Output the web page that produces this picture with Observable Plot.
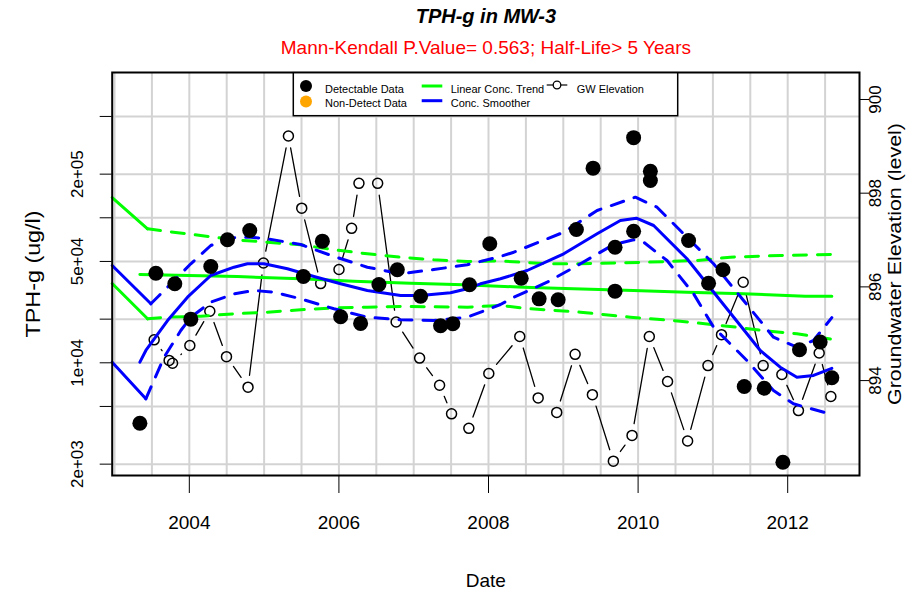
<!DOCTYPE html>
<html><head><meta charset="utf-8">
<script src="https://cdn.jsdelivr.net/npm/d3@7"></script>
<script src="https://cdn.jsdelivr.net/npm/@observablehq/plot@0.6"></script>
<style>
body{margin:0;background:#fff;}
#wrap{width:922px;height:595px;overflow:hidden;}
</style></head><body><div id="wrap"></div>
<script>
// ---------- data (decimal years, ug/l, ft) ----------
const tphYears = [2003.339, 2003.553, 2003.806, 2004.020, 2004.287, 2004.510, 2004.808, 2005.525, 2005.779, 2006.023, 2006.290, 2006.535, 2006.781, 2007.092, 2007.359, 2007.523, 2007.746, 2008.017, 2008.437, 2008.677, 2008.931, 2009.175, 2009.398, 2009.692, 2009.692, 2009.940, 2009.940, 2010.164, 2010.164, 2010.675, 2010.942, 2011.135, 2011.419, 2011.686, 2011.936, 2012.158, 2012.434, 2012.590];
const tphValues = [3830, 41500, 35100, 20000, 46100, 70500, 81700, 39400, 69000, 20800, 18700, 34700, 43800, 28800, 18000, 18600, 34500, 66200, 38300, 27600, 27200, 83000, 220000, 62700, 31200, 357000, 80800, 209000, 181000, 69700, 35400, 43800, 6870, 6680, 2060, 12300, 13900, 7880];

const gwYears = [2003.530, 2003.730, 2003.776, 2004.007, 2004.274, 2004.497, 2004.785, 2004.991, 2005.325, 2005.503, 2005.756, 2006.001, 2006.170, 2006.268, 2006.518, 2006.765, 2007.079, 2007.346, 2007.506, 2007.737, 2008.004, 2008.418, 2008.664, 2008.912, 2009.158, 2009.389, 2009.669, 2009.919, 2010.150, 2010.394, 2010.662, 2010.934, 2011.115, 2011.405, 2011.672, 2011.922, 2012.144, 2012.421, 2012.577];
const gwValues = [894.87, 894.43, 894.37, 894.75, 895.48, 894.51, 893.86, 896.51, 899.22, 897.68, 896.07, 896.37, 897.25, 898.21, 898.21, 895.25, 894.48, 893.90, 893.29, 892.98, 894.15, 894.94, 893.63, 893.32, 894.56, 893.70, 892.28, 892.83, 894.94, 893.98, 892.71, 894.32, 894.98, 896.10, 894.32, 894.13, 893.36, 894.59, 893.66];

const trendYears = [2003.339, 2004.644, 2005.489, 2006.197, 2006.958, 2007.666, 2008.467, 2009.135, 2009.937, 2010.654, 2011.406, 2012.234, 2012.590];
const trendValues = [40600, 39350, 37930, 36520, 35410, 34510, 33210, 32360, 31520, 30680, 29920, 28780, 28780];
const trendUpYears = [2003.442, 2003.709, 2003.976, 2004.331, 2004.598, 2005.044, 2005.489, 2005.934, 2006.380, 2006.825, 2007.269, 2007.716, 2008.160, 2008.784, 2009.229, 2010.120, 2010.787, 2011.232, 2011.900, 2012.590];
const trendUpValues = [83950, 80450, 77580, 73490, 70520, 67880, 65130, 60170, 56450, 53500, 51330, 49950, 50350, 48170, 48170, 49400, 50750, 53500, 54950, 55900];
const trendLowYears = [2003.442, 2003.709, 2004.154, 2004.598, 2005.044, 2005.489, 2005.934, 2006.380, 2006.825, 2007.716, 2008.160, 2008.561, 2009.229, 2009.896, 2010.564, 2011.232, 2011.677, 2012.123, 2012.590];
const trendLowValues = [20110, 20630, 20960, 21780, 22340, 23200, 23950, 24180, 24450, 24180, 24850, 23570, 22340, 20630, 19360, 17800, 16700, 15850, 14550];

const smoothYears = [2003.339, 2003.419, 2003.709, 2003.976, 2004.287, 2004.598, 2004.777, 2004.999, 2005.312, 2005.667, 2006.023, 2006.380, 2006.825, 2007.092, 2007.492, 2007.716, 2007.893, 2008.160, 2008.517, 2009.006, 2009.452, 2009.763, 2009.977, 2010.208, 2010.654, 2011.099, 2011.455, 2011.633, 2011.900, 2012.123, 2012.345, 2012.590];
const smoothValues = [10100, 12160, 19570, 28340, 40000, 45630, 48170, 48170, 44490, 39370, 35060, 31520, 29120, 29120, 30390, 32380, 35060, 37960, 43300, 56450, 77580, 95810, 99370, 88480, 52150, 26900, 15850, 12160, 9330, 7960, 8180, 9150];
const smoothUpYears = [2003.486, 2003.597, 2004.020, 2004.287, 2004.554, 2004.821, 2005.044, 2005.489, 2005.934, 2006.380, 2006.825, 2007.269, 2007.716, 2008.160, 2008.338, 2009.006, 2009.452, 2009.963, 2010.253, 2010.564, 2011.009, 2011.410, 2011.810, 2012.123, 2012.345, 2012.590];
const smoothUpValues = [25520, 29120, 48170, 64420, 72780, 73490, 71650, 65450, 54090, 45630, 41100, 43990, 47420, 54090, 57910, 79570, 112300, 138700, 118300, 81760, 48170, 26900, 15020, 12810, 14250, 20500];
const smoothLowYears = [2003.419, 2003.663, 2003.886, 2004.020, 2004.287, 2004.598, 2004.865, 2005.133, 2005.489, 2005.934, 2006.380, 2006.825, 2007.269, 2007.716, 2008.160, 2008.338, 2008.784, 2009.229, 2009.674, 2009.941, 2010.074, 2010.387, 2010.742, 2011.009, 2011.455, 2011.810, 2012.077, 2012.590];
const smoothLowValues = [5645, 10930, 16700, 20630, 26180, 29910, 31520, 30690, 27630, 23570, 20630, 19800, 19570, 20630, 25240, 28340, 35960, 48170, 65450, 70520, 67880, 50750, 29910, 17600, 10370, 6442, 5214, 4400];

// short solid lead-in segments at the left edge
const leadGreenUpYears = [2002.969, 2003.442], leadGreenUpValues = [138000, 83950];
const leadGreenLowYears = [2002.969, 2003.442], leadGreenLowValues = [35240, 20110];
const leadBlueUpYears = [2002.969, 2003.486], leadBlueUpValues = [46880, 25520];
const leadBlueLowYears = [2002.969, 2003.419], leadBlueLowValues = [10100, 5645];

// axes
const xTickYears = [2004, 2006, 2008, 2010, 2012];
const xGridYears = [2003, 2003.5, 2004, 2004.5, 2005, 2005.5, 2006, 2006.5, 2007, 2007.5, 2008, 2008.5, 2009, 2009.5, 2010, 2010.5, 2011, 2011.5, 2012, 2012.5];
const yTickValues = [2000, 5000, 10000, 20000, 50000, 100000, 200000, 500000];
const yLabelValues = [2000, 10000, 50000, 200000];
const yLabelTexts = ["2e+03", "1e+04", "5e+04", "2e+05"];
const gwTickValues = [894, 896, 898, 900];

const titleText = "TPH-g in MW-3";
const subtitleText = "Mann-Kendall P.Value= 0.563; Half-Life> 5 Years";
const legendLabels = ["Detectable Data", "Non-Detect Data", "Linear Conc. Trend", "Conc. Smoother", "GW Elevation"];

// ---------- scales ----------
const xDomain = [2002.969, 2012.960];
const yDomain = [Math.pow(10, 3.2228), Math.pow(10, 6.002)];
const gwDomain = [891.974, 900.576];
const lyLo = Math.log10(yDomain[0]), lyHi = Math.log10(yDomain[1]);
const gwToY = v => Math.pow(10, lyLo + (v - gwDomain[0]) / (gwDomain[1] - gwDomain[0]) * (lyHi - lyLo));

const zip = (xs, ys) => xs.map((x, i) => ({x, y: ys[i]}));
const tph = zip(tphYears, tphValues);
const gw = gwYears.map((x, i) => ({x, y: gwToY(gwValues[i])}));
const gwSegs = d3.pairs(gw).map(([a, b]) => ({x1: a.x, y1: a.y, x2: b.x, y2: b.y}));
const yLabels = zip(yLabelValues, yLabelTexts).map(d => ({v: d.x, t: d.y}));
const gwLabels = gwTickValues.map(v => ({v: gwToY(v), t: String(v)}));

const FONT = "'Liberation Sans', Arial, Helvetica, sans-serif";
const GREEN = "#00ff00", BLUE = "#0000ff";
const dash = "13,11";

const chart = Plot.plot({
  width: 922, height: 595,
  marginLeft: 111.7, marginRight: 63, marginTop: 72, marginBottom: 120,
  x: {type: "linear", domain: xDomain},
  y: {type: "log", domain: yDomain},
  style: {fontFamily: FONT, background: "white", color: "black"},
  marks: [
    Plot.gridX(xGridYears, {stroke: "#d3d3d3", strokeOpacity: 1, strokeWidth: 2}),
    Plot.gridY(yTickValues, {stroke: "#d3d3d3", strokeOpacity: 1, strokeWidth: 2}),
    // lead-ins
    Plot.line(zip(leadGreenUpYears, leadGreenUpValues), {x: "x", y: "y", stroke: GREEN, strokeWidth: 3}),
    Plot.line(zip(leadGreenLowYears, leadGreenLowValues), {x: "x", y: "y", stroke: GREEN, strokeWidth: 3}),
    Plot.line(zip(leadBlueUpYears, leadBlueUpValues), {x: "x", y: "y", stroke: BLUE, strokeWidth: 3}),
    Plot.line(zip(leadBlueLowYears, leadBlueLowValues), {x: "x", y: "y", stroke: BLUE, strokeWidth: 3}),
    // GW elevation
    Plot.arrow(gwSegs, {x1: "x1", y1: "y1", x2: "x2", y2: "y2", bend: 0, headLength: 0, insetStart: 12, insetEnd: 12, stroke: "black", strokeWidth: 1.3}),
    Plot.dot(gw, {x: "x", y: "y", r: 5, stroke: "black", strokeWidth: 1.5, fill: "none"}),
    // trend & smoother
    Plot.line(zip(trendUpYears, trendUpValues), {x: "x", y: "y", stroke: GREEN, strokeWidth: 3, strokeDasharray: dash}),
    Plot.line(zip(trendLowYears, trendLowValues), {x: "x", y: "y", stroke: GREEN, strokeWidth: 3, strokeDasharray: dash}),
    Plot.line(zip(trendYears, trendValues), {x: "x", y: "y", stroke: GREEN, strokeWidth: 3}),
    Plot.line(zip(smoothUpYears, smoothUpValues), {x: "x", y: "y", stroke: BLUE, strokeWidth: 3, strokeDasharray: dash}),
    Plot.line(zip(smoothLowYears, smoothLowValues), {x: "x", y: "y", stroke: BLUE, strokeWidth: 3, strokeDasharray: dash}),
    Plot.line(zip(smoothYears, smoothValues), {x: "x", y: "y", stroke: BLUE, strokeWidth: 3}),
    // concentrations
    Plot.dot(tph, {x: "x", y: "y", r: 7.5, fill: "black"}),
    Plot.frame({stroke: "black", strokeWidth: 2}),
    // axes
    Plot.axisX(xTickYears, {tickSize: 18, tickPadding: 22, fontSize: 19, tickFormat: d => String(d), label: null}),
    Plot.axisY(yTickValues, {anchor: "left", tickSize: 12, tickFormat: () => "", label: null}),
    Plot.axisY(gwTickValues.map(gwToY), {anchor: "right", tickSize: 9, tickFormat: () => "", label: null}),
    Plot.text(yLabels, {y: "v", text: "t", frameAnchor: "left", dx: -29, rotate: -90, textAnchor: "middle", lineAnchor: "bottom", fontSize: 17}),
    Plot.text(gwLabels, {y: "v", text: "t", frameAnchor: "right", dx: 9, rotate: -90, textAnchor: "middle", lineAnchor: "top", fontSize: 17}),
    // titles
    Plot.text([titleText], {frameAnchor: "top", lineAnchor: "middle", dy: -56, fontSize: 20, fontWeight: "bold", fontStyle: "italic"}),
    Plot.text([subtitleText], {frameAnchor: "top", lineAnchor: "middle", dy: -25, fontSize: 19, fill: "#ff0000"}),
    Plot.text(["Date"], {frameAnchor: "bottom", lineAnchor: "middle", dy: 105, fontSize: 19}),
    Plot.text(["TPH-g (ug/l)"], {frameAnchor: "left", textAnchor: "middle", lineAnchor: "middle", dx: -79, rotate: -90, fontSize: 20}),
    Plot.text(["Groundwater Elevation (level)"], {frameAnchor: "right", textAnchor: "middle", lineAnchor: "middle", dx: 35, dy: -10, rotate: -90, fontSize: 19})
  ]
});
document.getElementById("wrap").appendChild(chart);

// stretch rotated axis titles along their length to match the reference proportions
const svg = d3.select(chart);
svg.selectAll("text").each(function() {
  const s = d3.select(this);
  const t = s.text();
  if (t === "TPH-g (ug/l)") s.attr("textLength", 127).attr("lengthAdjust", "spacingAndGlyphs");
  if (t === "Groundwater Elevation (level)") s.attr("textLength", 282).attr("lengthAdjust", "spacingAndGlyphs");
});

// ---------- legend (drawn in pixel space inside the svg) ----------
const lg = svg.append("g").attr("font-family", FONT).attr("font-size", 11).attr("text-anchor", "start");
lg.append("rect").attr("x", 293.3).attr("y", 72.7).attr("width", 384.4).attr("height", 43).attr("fill", "white").attr("stroke", "black").attr("stroke-width", 1.5);
lg.append("circle").attr("cx", 306).attr("cy", 86).attr("r", 6).attr("fill", "black");
lg.append("circle").attr("cx", 306).attr("cy", 101.5).attr("r", 6).attr("fill", "#ffa500");
lg.append("text").attr("x", 325).attr("y", 89.5).attr("dy", "0.35em").text(legendLabels[0]);
lg.append("text").attr("x", 325).attr("y", 103).attr("dy", "0.35em").text(legendLabels[1]);
lg.append("line").attr("x1", 421.7).attr("x2", 442.3).attr("y1", 86).attr("y2", 86).attr("stroke", GREEN).attr("stroke-width", 3);
lg.append("line").attr("x1", 421.7).attr("x2", 442.3).attr("y1", 100.7).attr("y2", 100.7).attr("stroke", BLUE).attr("stroke-width", 3);
lg.append("text").attr("x", 450.7).attr("y", 89.5).attr("dy", "0.35em").text(legendLabels[2]);
lg.append("text").attr("x", 450.7).attr("y", 103).attr("dy", "0.35em").text(legendLabels[3]);
lg.append("line").attr("x1", 546.7).attr("x2", 567.3).attr("y1", 85).attr("y2", 85).attr("stroke", "black").attr("stroke-width", 1.2);
lg.append("circle").attr("cx", 557).attr("cy", 85).attr("r", 3.8).attr("fill", "white").attr("stroke", "black").attr("stroke-width", 1.3);
lg.append("text").attr("x", 576.7).attr("y", 89.5).attr("dy", "0.35em").text(legendLabels[4]);
</script>
</body></html>
